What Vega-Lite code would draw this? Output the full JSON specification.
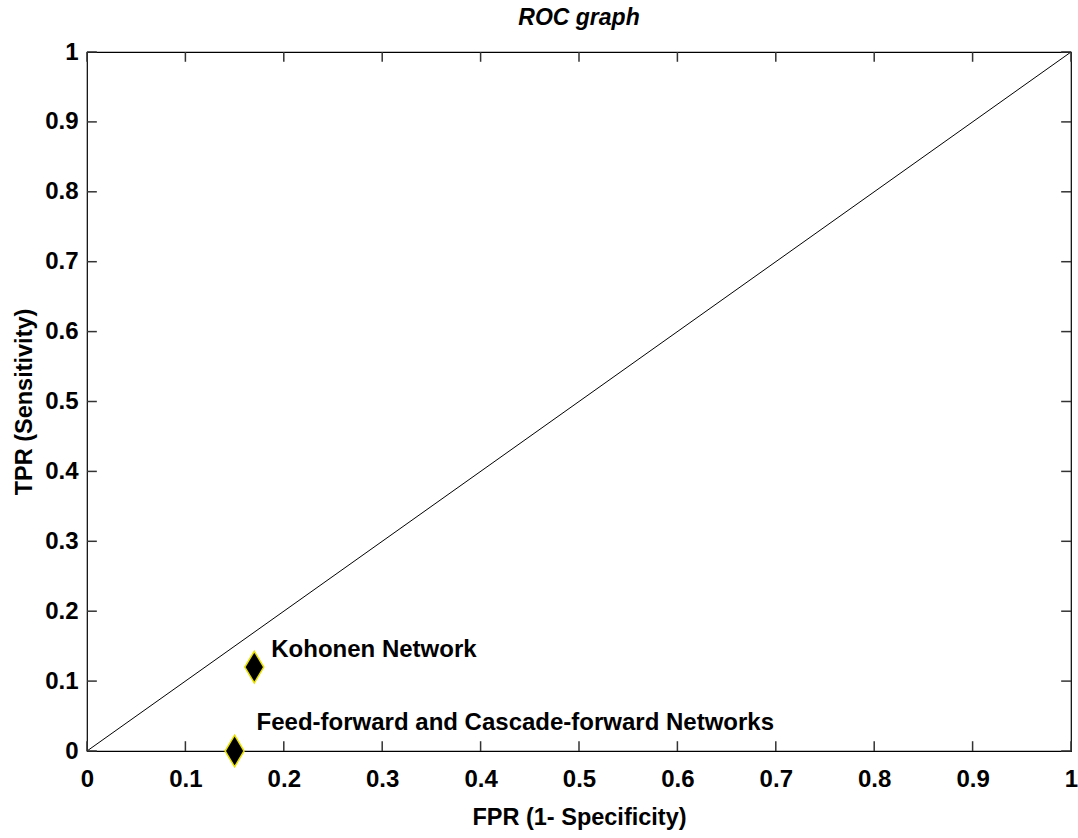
{
  "$schema": "https://vega.github.io/schema/vega-lite/v6.json",
  "autosize": {"type": "none"},
  "padding": {"left": 87, "top": 52, "right": 7, "bottom": 87},
  "width": 984,
  "height": 699,
  "background": "white",
  "title": {"text": "ROC graph", "font": "Liberation Sans", "fontSize": 23, "fontStyle": "italic", "fontWeight": "bold", "color": "black", "offset": 10, "anchor": "middle"},
  "config": {
    "view": {"stroke": "black", "strokeWidth": 1.2},
    "axis": {"domain": false, "ticks": false, "labelColor": "black", "titleColor": "black", "grid": false, "labelFont": "Liberation Sans", "labelFontWeight": "bold", "labelFontSize": 24, "titleFont": "Liberation Sans", "titleFontWeight": "bold", "titleFontSize": 23.5, "tickCount": 10}
  },
  "datasets": {
    "diag": [{"fpr": 0, "tpr": 0}, {"fpr": 1, "tpr": 1}],
    "ticks": [{"v": 0}, {"v": 0.1}, {"v": 0.2}, {"v": 0.3}, {"v": 0.4}, {"v": 0.5}, {"v": 0.6}, {"v": 0.7}, {"v": 0.8}, {"v": 0.9}, {"v": 1}],
    "pts": [
      {"name": "Kohonen Network", "fpr": 0.17, "tpr": 0.12},
      {"name": "Feed-forward and Cascade-forward Networks", "fpr": 0.15, "tpr": 0.0}
    ]
  },
  "layer": [
    {
      "data": {"name": "diag"},
      "mark": {"type": "line", "color": "black", "strokeWidth": 1},
      "encoding": {
        "x": {"field": "fpr", "type": "quantitative", "scale": {"domain": [0, 1], "nice": false}, "axis": {"orient": "bottom", "title": "FPR (1- Specificity)", "labelExpr": "datum.value == 0 ? '0' : datum.value == 1 ? '1' : format(datum.value, '.1f')", "labelPadding": 16, "titlePadding": 14, "labelFlush": false}},
        "y": {"field": "tpr", "type": "quantitative", "scale": {"domain": [0, 1], "nice": false}, "axis": {"orient": "left", "title": "TPR (Sensitivity)", "labelExpr": "datum.value == 0 ? '0' : datum.value == 1 ? '1' : format(datum.value, '.1f')", "labelPadding": 9, "titlePadding": 8, "labelFlush": false}}
      }
    },
    {
      "data": {"name": "ticks"},
      "mark": {"type": "rule", "color": "#333333", "strokeWidth": 1.5},
      "encoding": {"x": {"field": "v", "type": "quantitative"}, "y": {"datum": 0}, "y2": {"datum": 0.014}}
    },
    {
      "data": {"name": "ticks"},
      "mark": {"type": "rule", "color": "#333333", "strokeWidth": 1.5},
      "encoding": {"x": {"field": "v", "type": "quantitative"}, "y": {"datum": 1}, "y2": {"datum": 0.986}}
    },
    {
      "data": {"name": "ticks"},
      "mark": {"type": "rule", "color": "#333333", "strokeWidth": 1.5},
      "encoding": {"y": {"field": "v", "type": "quantitative"}, "x": {"datum": 0}, "x2": {"datum": 0.01}}
    },
    {
      "data": {"name": "ticks"},
      "mark": {"type": "rule", "color": "#333333", "strokeWidth": 1.5},
      "encoding": {"y": {"field": "v", "type": "quantitative"}, "x": {"datum": 1}, "x2": {"datum": 0.99}}
    },
    {
      "data": {"name": "pts"},
      "mark": {"type": "point", "shape": "M0,-1L0.6,0L0,1L-0.6,0Z", "filled": true, "fill": "black", "stroke": "#e8e000", "strokeWidth": 1.5, "size": 1000, "opacity": 1},
      "encoding": {
        "x": {"field": "fpr", "type": "quantitative"},
        "y": {"field": "tpr", "type": "quantitative"}
      }
    },
    {
      "data": {"name": "pts"},
      "transform": [{"filter": "datum.name == 'Kohonen Network'"}],
      "mark": {"type": "text", "align": "left", "baseline": "middle", "dx": 17, "dy": -17, "font": "Liberation Sans", "fontWeight": "bold", "fontSize": 24, "color": "black"},
      "encoding": {
        "x": {"field": "fpr", "type": "quantitative"},
        "y": {"field": "tpr", "type": "quantitative"},
        "text": {"field": "name"}
      }
    },
    {
      "data": {"name": "pts"},
      "transform": [{"filter": "datum.name != 'Kohonen Network'"}],
      "mark": {"type": "text", "align": "left", "baseline": "middle", "dx": 22, "dy": -28, "font": "Liberation Sans", "fontWeight": "bold", "fontSize": 24, "color": "black"},
      "encoding": {
        "x": {"field": "fpr", "type": "quantitative"},
        "y": {"field": "tpr", "type": "quantitative"},
        "text": {"field": "name"}
      }
    }
  ]
}
